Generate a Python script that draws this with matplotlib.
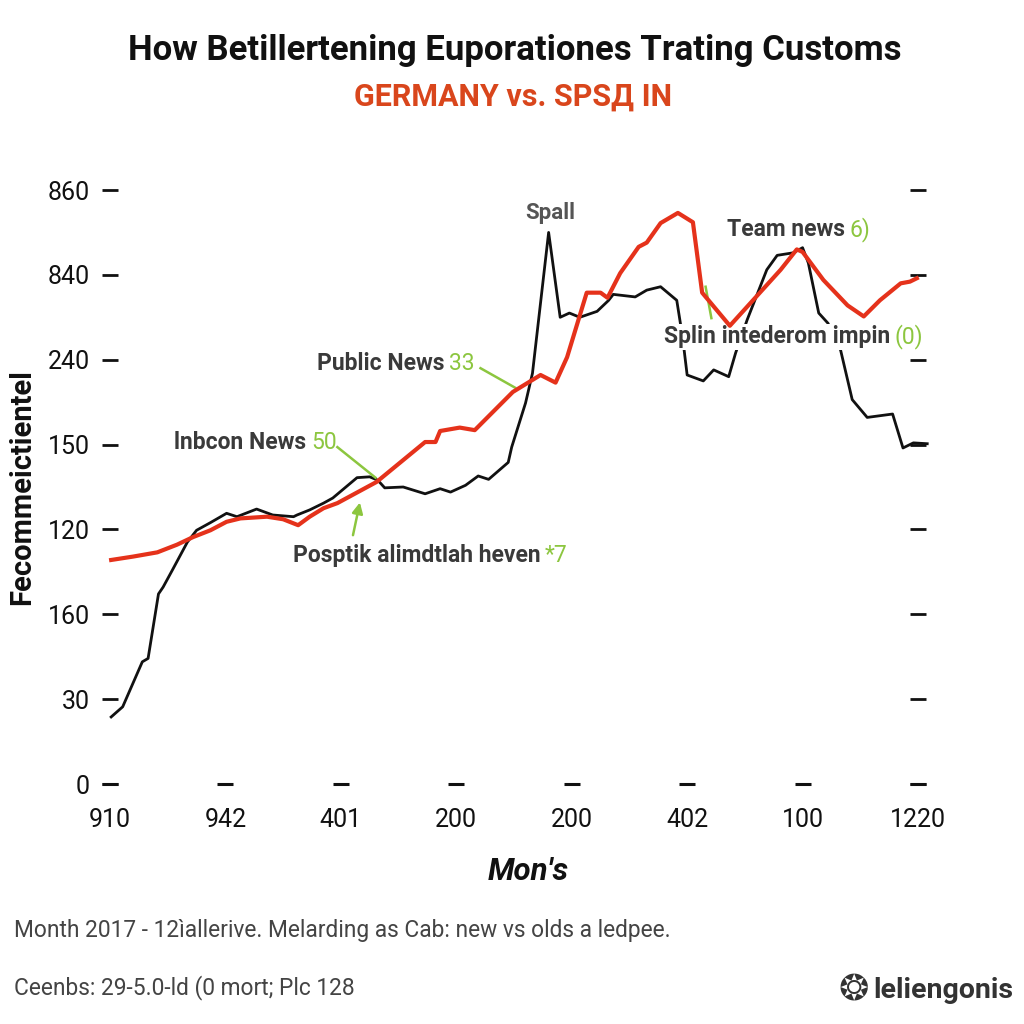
import matplotlib
matplotlib.use('Agg')
import matplotlib.pyplot as plt

# tick positions and their (odd) labels
x_ticks = [0, 1, 2, 3, 4, 5, 6, 7]
x_labels = ['910', '942', '401', '200', '200', '402', '100', '1220']
y_ticks = [0, 1, 2, 3, 4, 5, 6, 7]
y_labels = ['0', '30', '160', '120', '150', '240', '840', '860']

# black series
black_x = [0.01, 0.11, 0.28, 0.33, 0.42, 0.46, 0.54, 0.67, 0.75, 0.87, 1.01, 1.10, 1.27, 1.41,
           1.59, 1.62, 1.73, 1.85, 1.93, 2.14, 2.25, 2.32, 2.38, 2.54, 2.73, 2.86, 2.95, 3.08,
           3.19, 3.28, 3.45, 3.48, 3.60, 3.66, 3.80, 3.90, 3.98, 4.07, 4.22, 4.32, 4.36, 4.55,
           4.65, 4.77, 4.91, 4.96, 5.00, 5.14, 5.23, 5.36, 5.42, 5.52, 5.69, 5.78, 5.92, 6.00,
           6.05, 6.14, 6.22, 6.33, 6.43, 6.56, 6.78, 6.87, 6.96, 7.08]
black_y = [0.79, 0.91, 1.44, 1.48, 2.24, 2.32, 2.52, 2.85, 2.99, 3.08, 3.19, 3.15, 3.24, 3.17,
           3.15, 3.17, 3.23, 3.31, 3.37, 3.61, 3.62, 3.58, 3.49, 3.50, 3.42, 3.48, 3.44, 3.52,
           3.63, 3.59, 3.79, 3.97, 4.49, 4.84, 6.50, 5.50, 5.55, 5.50, 5.57, 5.70, 5.77, 5.74,
           5.82, 5.86, 5.70, 5.27, 4.82, 4.75, 4.88, 4.80, 5.08, 5.47, 6.06, 6.23, 6.26, 6.32,
           6.14, 5.55, 5.43, 5.11, 4.53, 4.32, 4.36, 3.96, 4.02, 4.01]

# red series
red_x = [0.01, 0.20, 0.41, 0.58, 0.72, 0.87, 1.01, 1.13, 1.36, 1.50, 1.63, 1.73, 1.85, 1.97,
         2.31, 2.73, 2.82, 2.86, 3.03, 3.16, 3.49, 3.73, 3.86, 3.96, 4.13, 4.25, 4.31, 4.42,
         4.58, 4.65, 4.77, 4.92, 5.05, 5.13, 5.37, 5.81, 5.95, 6.00, 6.18, 6.39, 6.53, 6.67,
         6.85, 6.93, 6.99]
red_y = [2.64, 2.68, 2.73, 2.82, 2.91, 2.99, 3.09, 3.13, 3.15, 3.12, 3.05, 3.15, 3.25, 3.31,
         3.56, 4.03, 4.03, 4.16, 4.20, 4.17, 4.62, 4.82, 4.73, 5.03, 5.79, 5.79, 5.73, 6.02,
         6.33, 6.38, 6.61, 6.73, 6.62, 5.79, 5.40, 6.06, 6.30, 6.27, 5.94, 5.64, 5.51, 5.70,
         5.90, 5.92, 5.96]

DARK = '#3a3a3a'
GREEN = '#8cc63f'
RED = '#e5321b'
FONT = ['Roboto', 'DejaVu Sans']
NARROW = ['Liberation Sans Narrow', 'Roboto', 'DejaVu Sans']

fig = plt.figure(figsize=(10.24, 10.24), dpi=100)
ax = fig.add_axes([110 / 1024, 1 - 784 / 1024, 808 / 1024, 594 / 1024])

ax.plot(black_x, black_y, color='#111111', lw=2.0, zorder=3, clip_on=False)
ax.plot(red_x, red_y, color=RED, lw=3.0, zorder=5, clip_on=False)

ax.set_xlim(0, 7)
ax.set_ylim(0, 7)
for s in ax.spines.values():
    s.set_visible(False)

ax.set_yticks(y_ticks)
ax.set_yticklabels(y_labels, fontsize=18, family=FONT, color='#111111')
ax.tick_params(axis='y', direction='inout', length=11, width=2, pad=9, right=True,
               color='#111111')
ax.set_xticks(x_ticks)
ax.set_xticklabels(x_labels, fontsize=18, family=FONT, color='#111111')
ax.tick_params(axis='x', length=0, pad=17)
# little dashes along the bottom row
ax.scatter(x_ticks, [0] * len(x_ticks), marker='_', s=120, linewidths=2.2,
           color='#111111', clip_on=False, zorder=4)

# annotations
ax.text(3.81, 6.73, 'Spall', ha='center', va='center', fontsize=16, color='#555555',
        family=FONT, fontweight='bold', zorder=6)

def label(x, y, dark, green, boxed=False):
    kw = {}
    if boxed:
        kw['bbox'] = dict(facecolor='white', edgecolor='none', pad=1)
    ax.text(x, y, dark, ha='right', va='center', fontsize=16.5, color=DARK,
            family=FONT, fontweight='bold', zorder=4, **kw)
    ax.text(x + 0.04, y, green, ha='left', va='center', fontsize=16.5, color=GREEN,
            family=FONT, zorder=4, **kw)

label(6.37, 6.53, 'Team news', '6)')
label(6.76, 5.27, 'Splin intederom impin', '(0)', boxed=True)
label(2.90, 4.95, 'Public News', '33')
label(1.70, 4.02, 'lnbcon News', '50')
label(3.73, 2.69, 'Posptik alimdtlah heven', '*7')

ax.plot([3.21, 3.51], [4.90, 4.67], color=GREEN, lw=1.8, zorder=4)
ax.plot([1.97, 2.30], [3.97, 3.61], color=GREEN, lw=1.8, zorder=4)
ax.plot([5.16, 5.21], [5.86, 5.49], color=GREEN, lw=1.8, zorder=4)
ax.annotate('', xy=(2.17, 3.35), xytext=(2.10, 2.90),
            arrowprops=dict(arrowstyle='-|>', color=GREEN, lw=1.8, mutation_scale=16))

ax.set_ylabel('Fecommeictientel', fontsize=21, fontweight='bold', family=FONT,
              color='#111111')
ax.yaxis.set_label_coords(-74 / 808, 0.5)
ax.set_xlabel("Mon's", fontsize=22.5, fontweight='bold', style='italic', family=FONT,
              color='#111111')
ax.xaxis.set_label_coords(418 / 808, -73 / 594)

fig.text(0.503, 0.951, 'How Betillertening Euporationes Trating Customs', ha='center',
         va='center', fontsize=25, fontweight='bold', family=FONT, color='#111111')
fig.text(0.501, 0.906, 'GERMANY vs. SPSД IN', ha='center', va='center', fontsize=22,
         fontweight='bold', family=FONT, color='#d9461c')

fig.text(14 / 1024, 1 - 930 / 1024, 'Month 2017 - 12ìallerive. Melarding as Cab: new vs olds a ledpee.',
         ha='left', va='center', fontsize=16.4, family=NARROW, color='#444444')
fig.text(14 / 1024, 1 - 988 / 1024, 'Ceenbs: 29-5.0-ld (0 mort; Plc 128',
         ha='left', va='center', fontsize=16.4, family=NARROW, color='#444444')

fig.text(873 / 1024, 1 - 990 / 1024, 'leliengonis', ha='left', va='center', fontsize=20.5,
         fontweight='bold', family=FONT, color='#333333')
fig.text(854 / 1024, 1 - 990 / 1024, '\u2742', ha='center', va='center', fontsize=26,
         family=['DejaVu Sans'], color='#333333')

fig.savefig('out.png', dpi=100, facecolor='white')
